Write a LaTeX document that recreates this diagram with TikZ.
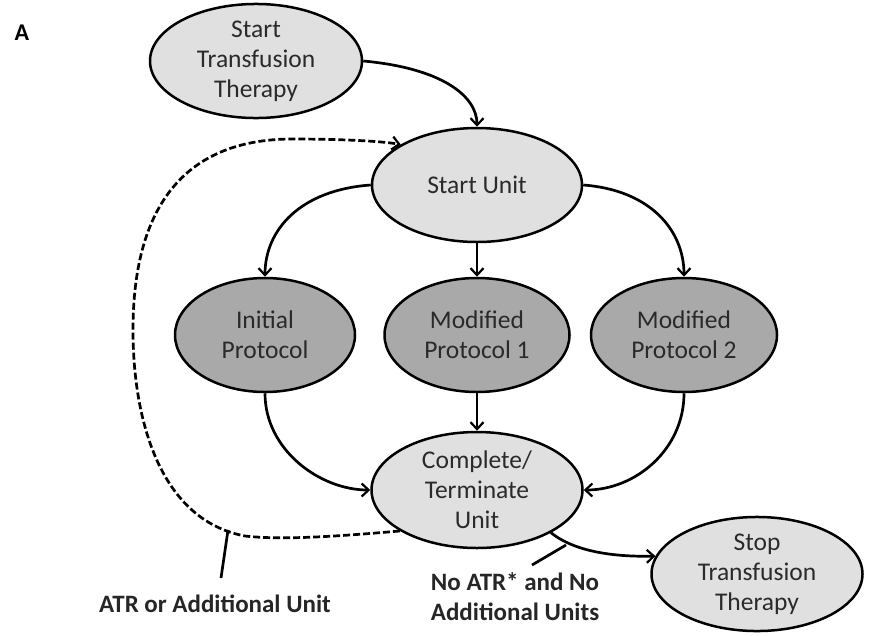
\documentclass[tikz,border=0pt]{standalone}
\usepackage{fontspec}
\setmainfont{Carlito}
\usetikzlibrary{shapes.geometric,arrows.meta}
\definecolor{lightfill}{HTML}{E0E0E0}
\definecolor{darkfill}{HTML}{A9A9A9}
\definecolor{txt}{HTML}{2A2A2A}
\tikzset{
  ell/.style={ellipse, draw=black, line width=2.5pt, inner sep=0pt, align=center,
    font=\fontsize{25.5}{30}\selectfont, text=txt},
  lite/.style={ell, fill=lightfill},
  dark/.style={ell, fill=darkfill},
  conn/.style={line width=2.7pt, -{Straight Barb[length=7pt,width=13pt,line width=2.2pt]}},
  dconn/.style={conn, dashed, dash pattern=on 7pt off 3pt},
  tick/.style={line width=2.7pt},
  lbl/.style={font=\fontsize{25}{30}\selectfont\bfseries, align=center, text=black!85}
}
\begin{document}
\begin{tikzpicture}[x=1pt,y=-1pt]
\useasboundingbox (0,0) rectangle (869,635);
\node[font=\fontsize{24}{26}\selectfont\bfseries] (lA) at (22,33) {A};
\node[lite, minimum width=212pt, minimum height=111pt] (st) at (256,61) {Start\\Transfusion\\Therapy};
\node[lite, minimum width=210pt, minimum height=114pt] (su) at (477,185) {Start Unit};
\node[dark, minimum width=180pt, minimum height=114pt] (ip) at (265,335) {Initial\\Protocol};
\node[dark, minimum width=185pt, minimum height=114pt] (m1) at (477,335) {Modified\\Protocol 1};
\node[dark, minimum width=186pt, minimum height=114pt] (m2) at (684,335) {Modified\\Protocol 2};
\node[lite, minimum width=211pt, minimum height=116pt] (ct) at (477,490) {Complete/\\Terminate\\Unit};
\node[lite, minimum width=211pt, minimum height=112pt] (sp) at (757,574) {Stop\\Transfusion\\Therapy};

\draw[conn] (st.east) .. controls (440,68) and (477,95) .. (su.north);
\draw[conn] (su.west) .. controls (300,190) and (265,230) .. (ip.north);
\draw[conn] (su.south) -- (m1.north);
\draw[conn] (su.east) .. controls (650,190) and (684,230) .. (m2.north);
\draw[conn] (ip.south) .. controls (265,450) and (320,490) .. (ct.west);
\draw[conn] (m1.south) -- (ct.north);
\draw[conn] (m2.south) .. controls (684,450) and (635,490) .. (ct.east);
\draw[conn] (ct.-30) .. controls (575,552) and (615,557) .. (sp.170);
\draw[dconn] (ct.208) .. controls (330,537) and (280,540) .. (245,536)
  .. controls (160,520) and (133,420) .. (133,330)
  .. controls (133,200) and (190,140) .. (290,139)
  .. controls (340,139) and (380,141) .. (su.152);

\coordinate (t1a) at (228,530);
\coordinate (t1b) at (221,578);
\draw[tick] (t1a) -- (t1b);
\node[lbl] (l1) at (215,604) {ATR or Additional Unit};
\coordinate (t2a) at (566,545);
\coordinate (t2b) at (532,565);
\draw[tick] (t2a) -- (t2b);
\node[lbl] (l2) at (515,597) {No ATR* and No\\Additional Units};
\end{tikzpicture}
\end{document}
